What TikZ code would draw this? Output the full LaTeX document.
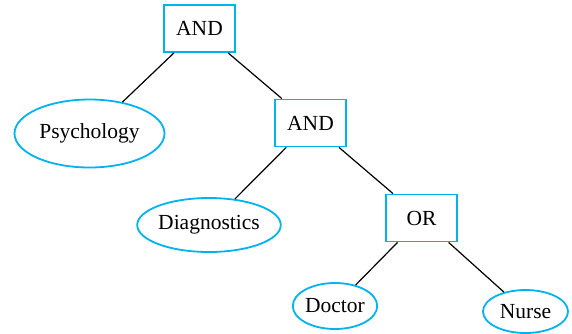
\documentclass[tikz,border=0pt]{standalone}
\usepackage{fontspec}
\setmainfont{Liberation Serif}
\usetikzlibrary{shapes.geometric}
\definecolor{nodeblue}{HTML}{00B2EE}
\begin{document}
\begin{tikzpicture}[x=1pt,y=-1pt,
  every node/.style={font=\fontsize{21.5}{25}\selectfont, inner sep=0pt, draw=nodeblue, line width=1.8pt},
  opbox/.style={rectangle, minimum width=71pt, minimum height=47pt},
  leaf/.style={ellipse},
  edge/.style={draw=black, line width=1.2pt}]
\useasboundingbox (0,0) rectangle (572,333);
\node[opbox] (and1) at (199.5,28.5) {AND};
\node[opbox] (and2) at (310.5,123) {AND};
\node[opbox] (or) at (421.5,218) {OR};
\node[leaf, minimum width=150pt, minimum height=68pt] (psy) at (89.5,133.5) {Psychology};
\node[leaf, minimum width=138pt, minimum height=54pt] (diag) at (209,225) {Diagnostics};
\node[leaf, minimum width=84pt, minimum height=46pt] (doc) at (335,306) {Doctor};
\node[leaf, minimum width=85pt, minimum height=43pt] (nurse) at (525.5,311.5) {Nurse};
\draw[edge] (and1) -- (psy);
\draw[edge] (and1) -- (and2);
\draw[edge] (and2) -- (diag);
\draw[edge] (and2) -- (or);
\draw[edge] (or) -- (doc);
\draw[edge] (or) -- (nurse);
\end{tikzpicture}
\end{document}
